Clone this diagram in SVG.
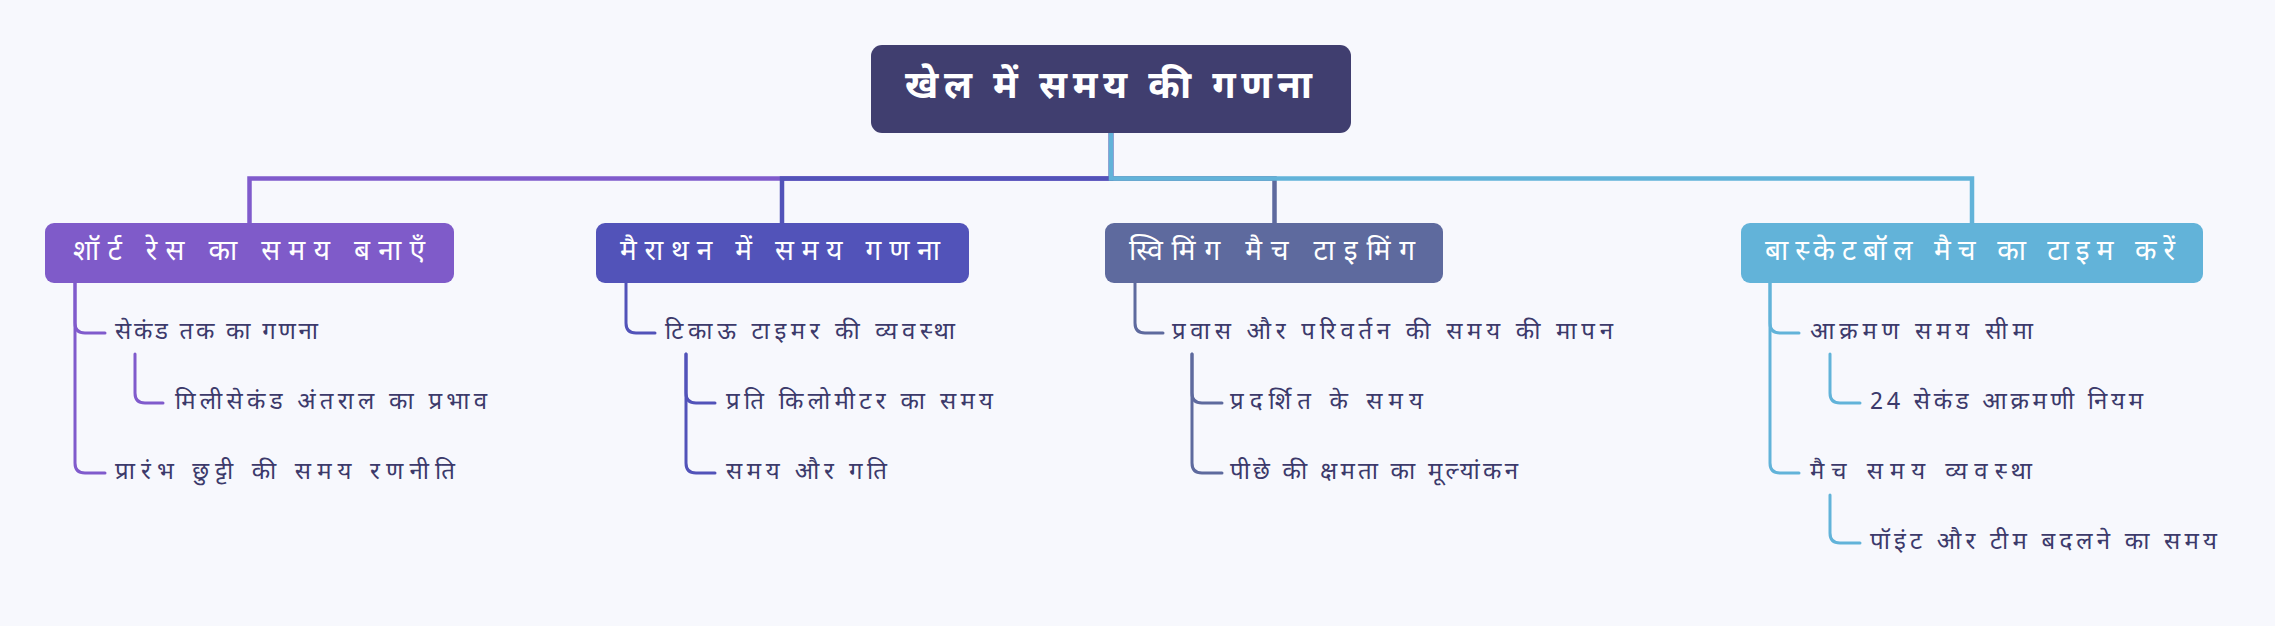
<svg xmlns="http://www.w3.org/2000/svg" width="2275" height="626" viewBox="0 0 2275 626">
<style>
.t{font-family:"Noto Sans Devanagari","Lohit Devanagari","FreeSans","Noto Sans","DejaVu Sans",sans-serif;}
.root{fill:#ffffff;font-size:38px;font-weight:bold;}
.l1{fill:#ffffff;font-size:28px;}
.l2{fill:#3c3a6b;font-size:24px;}
.bus{fill:none;stroke-width:4.5;}
.ln{fill:none;stroke-width:3;stroke-linecap:round;}
</style>
<rect width="2275" height="626" fill="#f7f8fd"/>
<g id="connectors">
  <path class="bus" stroke="#805bcc" d="M1111 133 V178.5 H249.5 V223"/>
  <path class="bus" stroke="#5253b9" d="M1111 133 V178.5 H782 V223"/>
  <path class="bus" stroke="#5e6a9e" d="M1111 133 V178.5 H1274.5 V223"/>
  <path class="bus" stroke="#62b3d9" d="M1111 133 V178.5 H1972 V223"/>
  <g stroke="#805bcc" class="ln">
    <path d="M75 283 V323 Q75 333 85 333 H105"/>
    <path d="M75 283 V463 Q75 473 85 473 H105"/>
    <path d="M135 354 V393 Q135 403 145 403 H163"/>
  </g>
  <g stroke="#5253b9" class="ln">
    <path d="M626 283 V323 Q626 333 636 333 H655"/>
    <path d="M686 354 V393 Q686 403 696 403 H715"/>
    <path d="M686 354 V463 Q686 473 696 473 H715"/>
  </g>
  <g stroke="#5e6a9e" class="ln">
    <path d="M1135 283 V323 Q1135 333 1145 333 H1163"/>
    <path d="M1192 354 V393 Q1192 403 1202 403 H1222"/>
    <path d="M1192 354 V463 Q1192 473 1202 473 H1222"/>
  </g>
  <g stroke="#62b3d9" class="ln">
    <path d="M1770 283 V323 Q1770 333 1780 333 H1799"/>
    <path d="M1770 283 V463 Q1770 473 1780 473 H1799"/>
    <path d="M1830 354 V393 Q1830 403 1840 403 H1860"/>
    <path d="M1830 495 V533 Q1830 543 1840 543 H1860"/>
  </g>
</g>
<g id="root">
  <rect x="871" y="45" width="480" height="88" rx="11" fill="#403e6f"/>
  <text class="t root" x="905" y="89" textLength="407" lengthAdjust="spacing" dominant-baseline="central">खेल में समय की गणना</text>
</g>
<g id="n1">
  <rect x="45" y="223" width="409" height="60" rx="9" fill="#7f5bc9"/>
  <text class="t l1" x="73" y="253" textLength="352" lengthAdjust="spacing" dominant-baseline="central">शॉर्ट रेस का समय बनाएँ</text>
</g>
<g id="n1a"><text class="t l2" x="115" y="333" textLength="203" lengthAdjust="spacing" dominant-baseline="central">सेकंड तक का गणना</text></g>
<g id="n1a1"><text class="t l2" x="175" y="403" textLength="312" lengthAdjust="spacing" dominant-baseline="central">मिलीसेकंड अंतराल का प्रभाव</text></g>
<g id="n1b"><text class="t l2" x="115" y="473" textLength="340" lengthAdjust="spacing" dominant-baseline="central">प्रारंभ छुट्टी की समय रणनीति</text></g>
<g id="n2">
  <rect x="596" y="223" width="373" height="60" rx="9" fill="#5253b9"/>
  <text class="t l1" x="620" y="253" textLength="320" lengthAdjust="spacing" dominant-baseline="central">मैराथन में समय गणना</text>
</g>
<g id="n2a"><text class="t l2" x="665" y="333" textLength="290" lengthAdjust="spacing" dominant-baseline="central">टिकाऊ टाइमर की व्यवस्था</text></g>
<g id="n2a1"><text class="t l2" x="726" y="403" textLength="267" lengthAdjust="spacing" dominant-baseline="central">प्रति किलोमीटर का समय</text></g>
<g id="n2a2"><text class="t l2" x="726" y="473" textLength="161" lengthAdjust="spacing" dominant-baseline="central">समय और गति</text></g>
<g id="n3">
  <rect x="1105" y="223" width="338" height="60" rx="9" fill="#5e6a9e"/>
  <text class="t l1" x="1129" y="253" textLength="286" lengthAdjust="spacing" dominant-baseline="central">स्विमिंग मैच टाइमिंग</text>
</g>
<g id="n3a"><text class="t l2" x="1172" y="333" textLength="441" lengthAdjust="spacing" dominant-baseline="central">प्रवास और परिवर्तन की समय की मापन</text></g>
<g id="n3a1"><text class="t l2" x="1230" y="403" textLength="193" lengthAdjust="spacing" dominant-baseline="central">प्रदर्शित के समय</text></g>
<g id="n3a2"><text class="t l2" x="1230" y="473" textLength="288" lengthAdjust="spacing" dominant-baseline="central">पीछे की क्षमता का मूल्यांकन</text></g>
<g id="n4">
  <rect x="1741" y="223" width="462" height="60" rx="9" fill="#62b3d9"/>
  <text class="t l1" x="1765" y="253" textLength="410" lengthAdjust="spacing" dominant-baseline="central">बास्केटबॉल मैच का टाइम करें</text>
</g>
<g id="n4a"><text class="t l2" x="1810" y="333" textLength="223" lengthAdjust="spacing" dominant-baseline="central">आक्रमण समय सीमा</text></g>
<g id="n4a1"><text class="t l2" x="1870" y="403" textLength="273" lengthAdjust="spacing" dominant-baseline="central">24 सेकंड आक्रमणी नियम</text></g>
<g id="n4b"><text class="t l2" x="1810" y="473" textLength="222" lengthAdjust="spacing" dominant-baseline="central">मैच समय व्यवस्था</text></g>
<g id="n4b1"><text class="t l2" x="1870" y="543" textLength="347" lengthAdjust="spacing" dominant-baseline="central">पॉइंट और टीम बदलने का समय</text></g>
</svg>
